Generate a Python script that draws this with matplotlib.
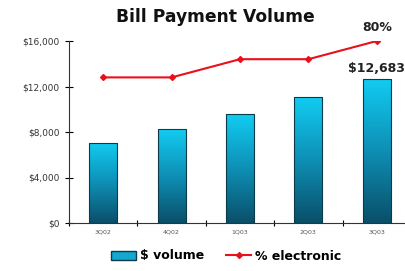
import numpy as np
import matplotlib.pyplot as plt
from matplotlib.colors import LinearSegmentedColormap
from matplotlib.lines import Line2D
from matplotlib.patches import Patch

# Datos
quarters = ['3Q02', '4Q02', '1Q03', '2Q03', '3Q03']
volume = [7050, 8250, 9550, 11050, 12683]
pct_electronic = [64, 64, 72, 72, 80]

fig = plt.figure(figsize=(4.05, 2.71), dpi=100)
ax = fig.add_axes([69/405, 1 - 223/271, 342/405, 182/271])
x = np.arange(len(quarters))

bars = ax.bar(x, volume, width=0.41, color='none', edgecolor='#0b3a4a', linewidth=0.8, zorder=3)

# relleno degradado en cada barra
cmap = LinearSegmentedColormap.from_list('grad', ['#0a4f69', '#0e8fb5', '#12ccf2'])
grad = np.linspace(0, 1, 256).reshape(-1, 1)
for b in bars:
    x0, w, h = b.get_x(), b.get_width(), b.get_height()
    im = ax.imshow(grad, extent=[x0, x0 + w, 0, h], origin='lower', cmap=cmap,
                   aspect='auto', zorder=2)
    im.set_clip_path(b)

ax.set_xlim(-0.5, 4.5)
ax.set_ylim(0, 16000)
ax.set_yticks([0, 4000, 8000, 12000, 16000])
ax.set_yticklabels(['$0', '$4,000', '$8,000', '$12,000', '$16,000'], fontsize=6.5, color='#333333')
ax.set_xticks(x)
ax.set_xticklabels(quarters, fontsize=4.5, color='#555555')
ax.tick_params(axis='x', length=0, pad=5)
ax.set_xticks(np.arange(-0.5, 4.6, 1), minor=True)
ax.tick_params(axis='x', which='minor', direction='inout', length=5, width=0.8)
ax.tick_params(axis='y', direction='inout', length=6, width=0.8, pad=4)
for s in ['top', 'right']:
    ax.spines[s].set_visible(False)
ax.spines['left'].set_color('#333333')
ax.spines['bottom'].set_color('#333333')

# eje secundario para % electrónico
ax2 = ax.twinx()
ax2.set_ylim(0, 80)
ax2.plot(x, pct_electronic, color='#e8101a', marker='D', markersize=3, linewidth=1.5)
ax2.axis('off')

ax2.text(x[-1], pct_electronic[-1] + 3, f'{pct_electronic[-1]}%', ha='center', va='bottom',
         fontsize=9, fontweight='bold', color='#222222')
ax.text(x[-1], volume[-1] + 350, f'${volume[-1]:,}', ha='center', va='bottom',
        fontsize=9, fontweight='bold', color='#222222')

fig.text(215/405, 1 - 17/271, 'Bill Payment Volume', ha='center', va='center',
         fontsize=12.3, fontweight='bold', color='#111111')

handles = [Patch(facecolor='#12a8d0', edgecolor='#0b3a4a'),
           Line2D([0], [0], color='#e8101a', marker='D', markersize=3, linewidth=1.5)]
fig.legend(handles, ['$ volume', '% electronic'], loc='center', bbox_to_anchor=(226/405, 1 - 256/271),
           ncol=2, frameon=False, prop={'size': 9, 'weight': 'bold'}, handlelength=2,
           columnspacing=1.8, handletextpad=0.3)

fig.savefig('out.png', dpi=100)
